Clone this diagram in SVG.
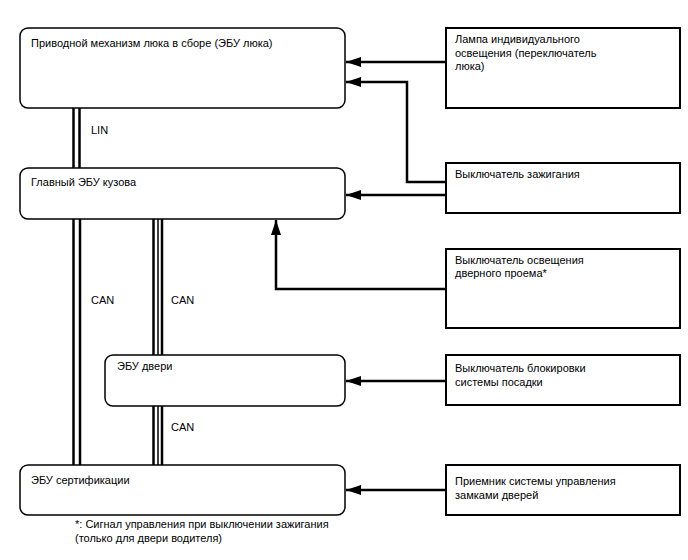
<svg xmlns="http://www.w3.org/2000/svg" width="688" height="560" viewBox="0 0 688 560">
<defs>
<style>
.rb{fill:#fff;stroke:#000;stroke-width:1.5}
.sb{fill:#fff;stroke:#000;stroke-width:2}
text{font-family:"Liberation Sans",Arial,sans-serif;font-size:11px;fill:#000}
.w{fill:none;stroke:#000;stroke-width:2.5}
.bus{stroke:#000;stroke-width:2.5}
</style>
<marker id="ah" viewBox="0 0 15 10" refX="15" refY="5" markerWidth="15" markerHeight="10" markerUnits="userSpaceOnUse" orient="auto">
<path d="M0,0 L15,5 L0,10 Z" fill="#000"/>
</marker>
</defs>
<g id="connectors">
<line class="bus" x1="73.5" y1="108" x2="73.5" y2="168"/>
<line class="bus" x1="79.5" y1="108" x2="79.5" y2="168"/>
<line class="bus" x1="73.5" y1="219" x2="73.5" y2="465"/>
<line class="bus" x1="80" y1="219" x2="80" y2="465"/>
<line class="bus" x1="153.5" y1="219" x2="153.5" y2="355"/>
<line class="bus" x1="158" y1="219" x2="158" y2="355" style="stroke-width:1.5"/>
<line class="bus" x1="162" y1="219" x2="162" y2="355"/>
<line class="bus" x1="153.5" y1="406" x2="153.5" y2="465"/>
<line class="bus" x1="158" y1="406" x2="158" y2="465" style="stroke-width:1.5"/>
<line class="bus" x1="162" y1="406" x2="162" y2="465"/>
<text x="91" y="134">LIN</text>
<text x="91" y="304">CAN</text>
<text x="171" y="304">CAN</text>
<text x="171" y="431">CAN</text>
<path class="w" d="M446,62 L346,62" marker-end="url(#ah)"/>
<path class="w" d="M446,182 L407,182 L407,82 L346,82" marker-end="url(#ah)"/>
<path class="w" d="M446,195 L346,195" marker-end="url(#ah)"/>
<path class="w" d="M446,289 L276,289 L276,220" marker-end="url(#ah)"/>
<path class="w" d="M446,381 L346,381" marker-end="url(#ah)"/>
<path class="w" d="M446,490 L346,490" marker-end="url(#ah)"/>
</g>
<g id="sunroof-ecu">
<rect class="rb" x="20" y="28" width="325" height="80" rx="8"/>
<text x="31" y="47">Приводной механизм люка в сборе (ЭБУ люка)</text>
</g>
<g id="main-body-ecu">
<rect class="rb" x="20" y="168" width="325" height="51" rx="8"/>
<text x="31" y="186">Главный ЭБУ кузова</text>
</g>
<g id="door-ecu">
<rect class="rb" x="105" y="355" width="240" height="51" rx="8"/>
<text x="117" y="370">ЭБУ двери</text>
</g>
<g id="cert-ecu">
<rect class="rb" x="20" y="465" width="325" height="50" rx="8"/>
<text x="31" y="484">ЭБУ сертификации</text>
</g>
<g id="lamp">
<rect class="sb" x="446" y="28" width="234" height="80"/>
<text x="455" y="43">Лампа индивидуального</text>
<text x="455" y="57">освещения (переключатель</text>
<text x="455" y="70">люка)</text>
</g>
<g id="ignition">
<rect class="sb" x="446" y="163" width="234" height="50"/>
<text x="455" y="178">Выключатель зажигания</text>
</g>
<g id="door-light">
<rect class="sb" x="446" y="249" width="234" height="79"/>
<text x="455" y="264">Выключатель освещения</text>
<text x="455" y="277">дверного проема*</text>
</g>
<g id="lock-switch">
<rect class="sb" x="446" y="355" width="234" height="50"/>
<text x="455" y="372">Выключатель блокировки</text>
<text x="455" y="386">системы посадки</text>
</g>
<g id="receiver">
<rect class="sb" x="446" y="465" width="234" height="50"/>
<text x="455" y="485">Приемник системы управления</text>
<text x="455" y="499">замками дверей</text>
</g>
<g id="note">
<text x="75" y="528">*: Сигнал управления при выключении зажигания</text>
<text x="75" y="542">(только для двери водителя)</text>
</g>
</svg>
